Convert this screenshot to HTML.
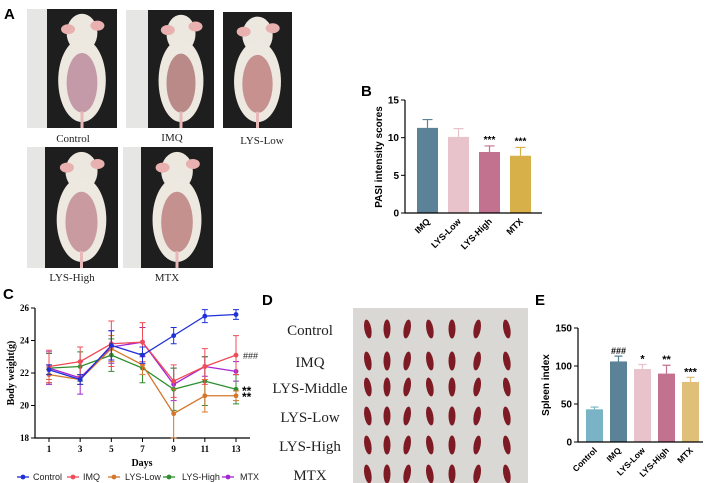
<!DOCTYPE html>
<html><head><meta charset="utf-8"><style>
html,body{margin:0;padding:0;background:#fff}
svg{display:block;font-family:"Liberation Sans",sans-serif}
.serif{font-family:"Liberation Serif",serif}
</style></head><body>
<svg id="fig" width="708" height="483" viewBox="0 0 708 483">
<g>
<text x="4" y="19" font-size="15" font-weight="bold">A</text>
<g id="mice"></g>
</g>
<g>
<text x="361" y="96" font-size="15" font-weight="bold">B</text>
<g id="chartB"></g>
</g>
<g>
<text x="3" y="299" font-size="15" font-weight="bold">C</text>
<g id="chartC"></g>
</g>
<g>
<text x="262" y="305" font-size="15" font-weight="bold">D</text>
<g id="spleens"></g>
</g>
<g>
<text x="535" y="305" font-size="15" font-weight="bold">E</text>
<g id="chartE"></g>
</g>
</svg>
<script>
const NS="http://www.w3.org/2000/svg";
function mk(tag,attrs,parent,txt){const e=document.createElementNS(NS,tag);for(const k in attrs)e.setAttribute(k,attrs[k]);if(txt!==undefined)e.textContent=txt;parent.appendChild(e);return e;}

// ---------- Panel A: mouse photos ----------
const mouseNames=["Control","IMQ","LYS-Low","LYS-High","MTX"];
const mouseBoxes=[[27,9,90,119,20],[126,10,88,118,22],[223,12,69,116,0],[27,147,91,121,18],[123,147,90,121,18]];
const mouseLabelPos=[[73,142],[172,141],[262,144],[72,281],[167,281]];
const patchColors=["#c49aa8","#b98a88","#c7918f","#c99a9f","#c4918f"];
const gA=document.getElementById("mice");
mouseBoxes.forEach((b,i)=>{
  const [x,y,w,h,wl]=b;
  const g=mk("g",{},gA);
  
  
  mk("rect",{x:x,y:y,width:w,height:h,fill:"#1e1e1e"},g);
  if(wl>0) mk("rect",{x:x,y:y,width:wl,height:h,fill:"#e6e6e4"},g);
  const cx=x+wl+(w-wl)/2, cy=y+h*0.5;
  mk("ellipse",{cx:cx,cy:y+h*0.2,rx:(w-wl)*0.22,ry:h*0.16,fill:"#ece7df"},g);
  mk("ellipse",{cx:cx-(w-wl)*0.2,cy:y+h*0.17,rx:7,ry:5,fill:"#e9b0b0"},g);
  mk("ellipse",{cx:cx+(w-wl)*0.22,cy:y+h*0.14,rx:7,ry:5,fill:"#e9b0b0"},g);
  mk("ellipse",{cx:cx,cy:cy+h*0.1,rx:(w-wl)*0.34,ry:h*0.35,fill:"#ede8e0"},g);
  mk("ellipse",{cx:cx,cy:cy+h*0.12,rx:(w-wl)*0.22,ry:h*0.25,fill:patchColors[i]},g);
  mk("rect",{x:cx-1.5,y:y+h*0.86,width:3,height:h*0.14,fill:"#e8b8b8"},g);
  const t=mk("text",{x:mouseLabelPos[i][0],y:mouseLabelPos[i][1],"font-size":"11","text-anchor":"middle",class:"serif",fill:"#222"},gA,mouseNames[i]);
  
  
});

// ---------- Panel B ----------
const bCats=["IMQ","LYS-Low","LYS-High","MTX"];
const bVals=[11.3,10.1,8.1,7.6];
const bErr=[1.1,1.1,0.8,1.1];
const bSig=["","","***","***"];
const bTicks=[0,5,10,15];
const bColors=["#5b8296","#e8c3cc","#c2728e","#d8b04a"];
(function(){
  const g=document.getElementById("chartB");
  const y=v=>213-v/15*113, x0=405, bw=21, step=31, first=417;
  bCats.forEach((c,i)=>{
    const bx=first+i*step, cx=bx+bw/2;
    const r=mk("rect",{x:bx,y:y(bVals[i]),width:bw,height:213-y(bVals[i]),fill:bColors[i]},g);
    
    
    const e=mk("path",{d:`M${cx} ${y(bVals[i])}V${y(bVals[i]+bErr[i])}M${cx-5} ${y(bVals[i]+bErr[i])}H${cx+5}`,stroke:bColors[i],"stroke-width":"1.2",fill:"none"},g);
    
    
    if(bSig[i]){const s=mk("text",{x:cx,y:y(bVals[i]+bErr[i])-3,"font-size":"10","font-weight":"bold","text-anchor":"middle"},g,bSig[i]);
      
      }
    const t=mk("text",{x:cx+3,y:222,"font-size":"9","font-weight":"bold","text-anchor":"end",transform:`rotate(-45 ${cx+3} 222)`},g,c);
    
    
  });
  mk("path",{d:`M${x0} 100V213H542`,stroke:"#000","stroke-width":"1.2",fill:"none"},g);
  bTicks.forEach(v=>{mk("line",{x1:x0-4,x2:x0,y1:y(v),y2:y(v),stroke:"#000"},g);
    const t=mk("text",{x:x0-6,y:y(v)+3.5,"font-size":"10","font-weight":"bold","text-anchor":"end"},g,v);
    
    });
  const yl=mk("text",{x:382,y:157,"font-size":"10","font-weight":"bold","text-anchor":"middle",transform:"rotate(-90 382 157)"},g,"PASI intensity scores");
  
  
})();

// ---------- Panel C ----------
const cDays=[1,3,5,7,9,11,13];
const cSeriesNames=["Control","IMQ","LYS-Low","LYS-High","MTX"];
const cControl=[22.2,21.6,23.7,23.1,24.3,25.5,25.6];
const cIMQ=[22.4,22.7,23.8,23.9,21.5,22.4,23.1];
const cLow=[21.9,21.6,23.5,22.5,19.5,20.6,20.6];
const cHigh=[22.3,22.4,23.1,22.3,21.0,21.5,21.0];
const cMTX=[22.3,21.7,23.6,23.9,21.3,22.4,22.1];
const cErrControl=[0.3,0.3,0.9,0.5,0.5,0.4,0.3];
const cErrIMQ=[1.0,0.9,1.4,1.2,1.0,1.1,1.2];
const cErrLow=[0.3,0.3,0.8,0.6,1.5,1.0,0.3];
const cErrHigh=[0.9,0.9,1.0,0.9,1.3,1.5,0.9];
const cErrMTX=[1.0,1.0,1.0,0.9,1.0,0.6,0.6];
const cYTicks=[18,20,22,24,26];
const cColors=["#1f30d8","#f04c58","#d4772c","#2f8f2f","#a524d4"];
(function(){
  const g=document.getElementById("chartC");
  const x=d=>49+(d-1)/12*187, y=v=>308+(26-v)/8*130;
  const series=[cControl,cIMQ,cLow,cHigh,cMTX], errs=[cErrControl,cErrIMQ,cErrLow,cErrHigh,cErrMTX];
  mk("path",{d:"M35 308V438H250",stroke:"#000","stroke-width":"1.2",fill:"none"},g);
  cYTicks.forEach(v=>{mk("line",{x1:31,x2:35,y1:y(v),y2:y(v),stroke:"#000"},g);
    const t=mk("text",{x:29,y:y(v)+3,"font-size":"9","font-weight":"bold","text-anchor":"end",class:"serif"},g,v);
    
    });
  cDays.forEach(d=>{mk("line",{x1:x(d),x2:x(d),y1:438,y2:442,stroke:"#000"},g);
    const t=mk("text",{x:x(d),y:452,"font-size":"9","font-weight":"bold","text-anchor":"middle",class:"serif"},g,d);
    
    });
  const xt=mk("text",{x:142,y:466,"font-size":"10","font-weight":"bold","text-anchor":"middle",class:"serif"},g,"Days");
  
  
  const yt=mk("text",{x:14,y:373,"font-size":"10","font-weight":"bold","text-anchor":"middle",class:"serif",transform:"rotate(-90 14 373)"},g,"Body weight(g)");
  
  
  series.slice().reverse().forEach((s,ri)=>{
    const i=series.length-1-ri, col=cColors[i];
    const sg=mk("g",{},g);
    
    
    s.forEach((v,j)=>{const e=errs[i][j];
      mk("path",{d:`M${x(cDays[j])} ${y(v-e)}V${y(v+e)}M${x(cDays[j])-3} ${y(v+e)}H${x(cDays[j])+3}M${x(cDays[j])-3} ${y(v-e)}H${x(cDays[j])+3}`,stroke:col,"stroke-width":"1",fill:"none"},sg);});
    mk("polyline",{points:s.map((v,j)=>x(cDays[j])+","+y(v)).join(" "),stroke:col,"stroke-width":"1.3",fill:"none"},sg);
    s.forEach((v,j)=>{const p=mk("circle",{cx:x(cDays[j]),cy:y(v),r:2.4,fill:col},sg);
      
      });
  });
  const a1=mk("text",{x:243,y:359,"font-size":"9",fill:"#222"},g,"###");
  
  
  const a2=mk("text",{x:242,y:395,"font-size":"12","font-weight":"bold"},g,"**");
  
  
  const a3=mk("text",{x:242,y:401,"font-size":"12","font-weight":"bold"},g,"**");
  
  
  const lx=[17,67,108,163,222], tx=[33,83,125,182,240];
  cSeriesNames.forEach((n,i)=>{
    const lg=mk("g",{},g);
    
    
    mk("line",{x1:lx[i],x2:lx[i]+12,y1:477,y2:477,stroke:cColors[i],"stroke-width":"1.3"},lg);
    mk("circle",{cx:lx[i]+6,cy:477,r:2.4,fill:cColors[i]},lg);
    mk("text",{x:tx[i],y:480,"font-size":"9",fill:"#222"},lg,n);
  });
})();

// ---------- Panel D ----------
const dGroups=["Control","IMQ","LYS-Middle","LYS-Low","LYS-High","MTX"];
(function(){
  const g=document.getElementById("spleens");
  const rowY=[330,362,388,417,446,475], colX=[368,387,407,430,452,477,507];
  const ph=mk("rect",{x:353,y:308,width:175,height:175,fill:"#d9d8d5"},g);
  
  
  dGroups.forEach((n,r)=>{
    const t=mk("text",{x:310,y:rowY[r]+5,"font-size":"15","text-anchor":"middle",class:"serif",fill:"#222"},g,n);
    
    
    colX.forEach((cx,c)=>{const s=mk("ellipse",{cx:cx,cy:rowY[r]-1,rx:3.5,ry:9.5,fill:"#7d1a24",transform:`rotate(${(c%3-1)*10} ${cx} ${rowY[r]})`},g);
      
      });
  });
})();

// ---------- Panel E ----------
const eCats=["Control","IMQ","LYS-Low","LYS-High","MTX"];
const eVals=[43,106,96,90,79];
const eErr=[3,7,6,11,6];
const eSig=["","###","*","**","***"];
const eTicks=[0,50,100,150];
const eColors=["#7ab3c6","#5b8296","#e8c3cc","#c2728e","#e0bf78"];
(function(){
  const g=document.getElementById("chartE");
  const y=v=>442-v/150*114, x0=578, bw=17, step=24, first=586;
  eCats.forEach((c,i)=>{
    const bx=first+i*step, cx=bx+bw/2;
    const r=mk("rect",{x:bx,y:y(eVals[i]),width:bw,height:442-y(eVals[i]),fill:eColors[i]},g);
    
    
    const e=mk("path",{d:`M${cx} ${y(eVals[i])}V${y(eVals[i]+eErr[i])}M${cx-4} ${y(eVals[i]+eErr[i])}H${cx+4}`,stroke:eColors[i],"stroke-width":"1.2",fill:"none"},g);
    
    
    if(eSig[i]){const s=mk("text",{x:cx,y:y(eVals[i]+eErr[i])-2,"font-size":eSig[i][0]=="#"?"9":"11","font-weight":"bold","text-anchor":"middle"},g,eSig[i]);
      
      }
    const t=mk("text",{x:cx+3,y:451,"font-size":"8.5","font-weight":"bold","text-anchor":"end",transform:`rotate(-45 ${cx+3} 451)`},g,c);
    
    
  });
  mk("path",{d:`M${x0} 328V442H703`,stroke:"#000","stroke-width":"1.2",fill:"none"},g);
  eTicks.forEach(v=>{mk("line",{x1:x0-4,x2:x0,y1:y(v),y2:y(v),stroke:"#000"},g);
    const t=mk("text",{x:x0-6,y:y(v)+3.5,"font-size":"10","font-weight":"bold","text-anchor":"end"},g,v);
    
    });
  const yl=mk("text",{x:549,y:385,"font-size":"10","font-weight":"bold","text-anchor":"middle",transform:"rotate(-90 549 385)"},g,"Spleen index");
  
  
})();
</script>
</body></html>
